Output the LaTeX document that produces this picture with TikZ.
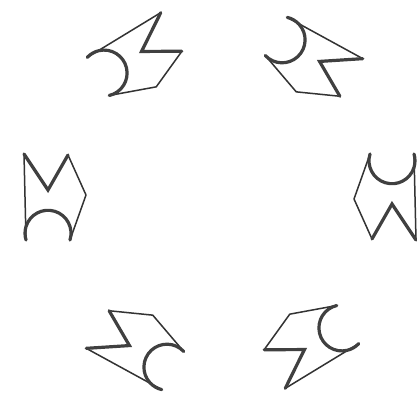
\documentclass[tikz,border=0pt]{standalone}
\begin{document}
\begin{tikzpicture}[x=1pt,y=1pt,
  thinline/.style={draw=black!80, line width=1.5pt, line join=round, line cap=round},
  thickline/.style={draw=black!75, line width=3.2pt, line join=miter, line cap=round},
  motif/.pic={
    \draw[thinline] (13,42) -- (31,2) -- (15,-43);
    \draw[thinline] (-29,-43) -- (-31,43);
    \draw[thickline] (-31,43) -- (-7,7) -- (13,42);
    \draw[thickline] (15,-43) arc[start angle=-17, end angle=197, radius=23];
  }]
\useasboundingbox (0,0) rectangle (417,397);
\fill[white] (0,0) rectangle (417,397);
\path (55,200) pic (left) {motif};
\path (139,336) pic[rotate=-60] (topleft) {motif};
\path (310,333) pic[rotate=-120] (topright) {motif};
\path (385,200) pic[rotate=180] (right) {motif};
\path (307,57) pic[rotate=120] (bottomright) {motif};
\path (139,54) pic[rotate=60] (bottomleft) {motif};
\end{tikzpicture}
\end{document}
